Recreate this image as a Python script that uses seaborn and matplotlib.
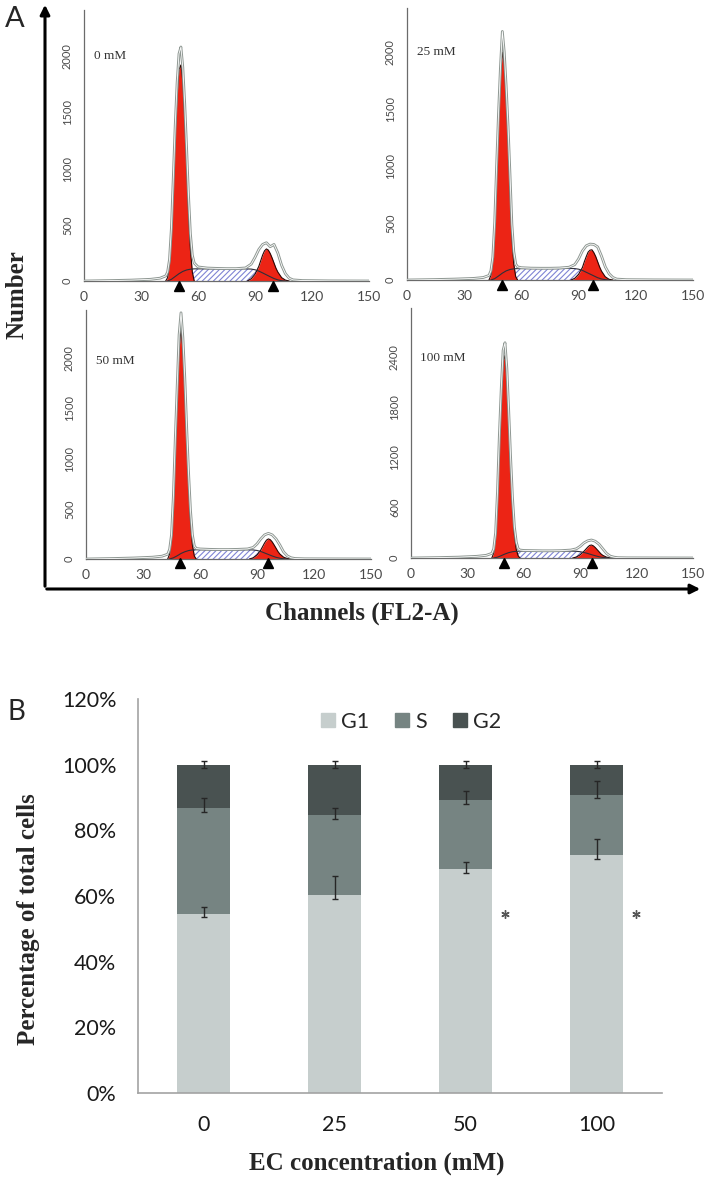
import numpy as np
import pandas as pd
import matplotlib
matplotlib.use("Agg")
import matplotlib.pyplot as plt
import seaborn as sns
from matplotlib.patches import FancyArrowPatch, Patch
from matplotlib.ticker import MultipleLocator, FixedLocator, FuncFormatter, NullFormatter

# ---------------- Panel A data (flow cytometry histograms) ----------------
PANEL_LABELS = ["0 mM", "25 mM", "50 mM", "100 mM"]

CH = [0, 15, 25, 35, 40, 43, 44, 45, 46, 47, 48, 49, 50, 51, 52, 53, 54, 55, 56, 57, 58,
      60, 65, 70, 75, 80, 85, 88, 90, 92, 94, 96, 98, 100, 102, 104, 106, 108, 110, 115, 130, 150]
TOT_0 = [0, 4, 8, 15, 25, 45, 80, 190, 470, 920, 1380, 1760, 2020, 2080, 1900, 1580, 1180, 760, 420, 230, 160,
         125, 115, 112, 110, 110, 116, 150, 210, 280, 325, 340, 305, 325, 250, 140, 65, 25, 10, 4, 1, 0]
TOT_25 = [0, 4, 8, 14, 22, 40, 80, 200, 510, 1000, 1460, 1860, 2180, 2000, 1700, 1350, 930, 490, 250, 140, 115,
          108, 104, 103, 103, 105, 112, 135, 185, 255, 300, 315, 312, 290, 210, 115, 55, 22, 8, 3, 1, 0]
TOT_50 = [0, 5, 10, 18, 28, 48, 95, 240, 630, 1200, 1720, 2230, 2450, 2200, 1800, 1300, 850, 480, 240, 130, 105,
          100, 96, 94, 94, 96, 100, 115, 150, 200, 240, 255, 240, 200, 140, 70, 30, 12, 5, 2, 1, 0]
TOT_100 = [0, 5, 10, 20, 32, 55, 110, 300, 790, 1460, 2020, 2480, 2570, 2260, 1740, 1190, 710, 370, 190, 110, 95,
           90, 88, 86, 86, 88, 95, 110, 140, 180, 205, 215, 200, 165, 110, 55, 22, 10, 4, 2, 1, 0]

CH_G1 = [43, 44, 45, 46, 47, 48, 49, 50, 51, 52, 53, 54, 55, 56, 57, 58]
G1_0 = [0, 30, 150, 420, 850, 1300, 1650, 1880, 1920, 1780, 1450, 1050, 620, 280, 80, 0]
G1_25 = [0, 40, 180, 480, 950, 1400, 1780, 2000, 1900, 1600, 1250, 820, 380, 140, 30, 0]
G1_50 = [0, 50, 220, 600, 1150, 1650, 2100, 2280, 2100, 1700, 1200, 750, 380, 140, 30, 0]
G1_100 = [0, 60, 280, 750, 1400, 1950, 2350, 2420, 2150, 1650, 1100, 620, 280, 100, 25, 0]

CH_G2 = [86, 88, 90, 92, 93, 94, 95, 96, 97, 98, 99, 100, 101, 102, 104, 106, 108]
G2_0 = [0, 20, 60, 130, 180, 230, 268, 285, 275, 245, 205, 160, 115, 80, 30, 8, 0]
G2_25 = [0, 15, 50, 110, 160, 205, 245, 262, 265, 240, 205, 160, 115, 78, 28, 6, 0]
G2_50 = [0, 12, 40, 90, 125, 160, 188, 200, 192, 170, 140, 108, 75, 50, 18, 4, 0]
G2_100 = [0, 12, 38, 80, 105, 130, 150, 155, 145, 125, 100, 75, 50, 32, 10, 2, 0]

CH_S = [44, 46, 48, 50, 52, 54, 56, 58, 60, 70, 80, 85, 88, 90, 92, 94, 96, 98, 100, 102, 104, 106]
S_0 = [0, 15, 40, 65, 85, 98, 105, 108, 108, 108, 108, 108, 106, 100, 88, 72, 55, 38, 22, 10, 3, 0]
S_25 = [0, 12, 35, 60, 80, 92, 98, 100, 100, 100, 100, 102, 100, 95, 84, 68, 52, 36, 20, 9, 3, 0]
S_50 = [0, 12, 32, 55, 72, 84, 90, 92, 92, 90, 90, 92, 90, 85, 75, 60, 45, 30, 17, 8, 2, 0]
S_100 = [0, 10, 28, 48, 64, 75, 80, 82, 82, 80, 80, 82, 80, 75, 66, 54, 40, 27, 15, 7, 2, 0]

TRI_G1 = [50.0, 49.8, 49.5, 49.5]
TRI_G2 = [99.5, 97.5, 95.8, 96.3]
YTOP = [2409, 2386, 2478, 2985]
YMAJ = [500, 500, 500, 600]
YMIN = [100, 100, 100, 120]
LABEL_Y = [2000, 2000, 1970, 2390]
X_TICKS = [0, 30, 60, 90, 120, 150]

# ---------------- Panel B data (stacked bars) ----------------
CONC = ["0", "25", "50", "100"]
G1_PCT = [54.4, 60.2, 68.1, 72.5]
S_PCT = [32.5, 24.6, 21.1, 18.3]
G2_PCT = [13.1, 15.2, 10.8, 9.2]
G1_ERR_LO = [0.9, 1.1, 1.2, 1.3]
G1_ERR_HI = [2.4, 6.0, 2.3, 4.9]
S_ERR_LO = [1.2, 1.5, 1.3, 0.9]
S_ERR_HI = [2.8, 2.0, 2.8, 4.3]
G2_ERR_LO = [1.0, 1.0, 1.0, 1.0]
G2_ERR_HI = [1.0, 1.0, 1.0, 1.0]
STAR_CAT = [2, 3]
STAR_Y = [54.5, 54.5]
B_YTICKS = [0, 20, 40, 60, 80, 100, 120]

# ---------------- style ----------------
sns.set_style("white")
SANS = ["Lato", "DejaVu Sans"]
SERIF = ["Liberation Serif", "DejaVu Serif"]
plt.rcParams["font.family"] = SANS
plt.rcParams["hatch.linewidth"] = 0.8

C_RED = "#ec2415"
C_HATCH = "#7f84d4"
C_AX = "#6b6b6b"
C_G1, C_S, C_G2 = "#c6cecd", "#768482", "#495251"

W, H = 710, 1177
fig = plt.figure(figsize=(W / 100, H / 100), dpi=100)


def rect(l, r, t, b):
    return [l / W, 1 - b / H, (r - l) / W, (b - t) / H]


A_RECTS = [rect(84, 369, 10, 281), rect(407, 693, 8, 280),
           rect(86, 371, 310, 559), rect(411, 693, 308, 558)]
TOTS = [TOT_0, TOT_25, TOT_50, TOT_100]
G1S = [G1_0, G1_25, G1_50, G1_100]
G2S = [G2_0, G2_25, G2_50, G2_100]
SS = [S_0, S_25, S_50, S_100]

for i in range(4):
    ax = fig.add_axes(A_RECTS[i])
    # S phase (hatched)
    ax.fill_between(CH_S, 0, SS[i], facecolor="white", edgecolor=C_HATCH,
                    hatch="//////", linewidth=0, zorder=1)
    # G1 / G2 components
    ax.fill_between(CH_G1, 0, G1S[i], color=C_RED, linewidth=0, zorder=2)
    ax.fill_between(CH_G2, 0, G2S[i], color=C_RED, linewidth=0, zorder=2)
    ax.plot(CH_G1, G1S[i], color="#2a0806", lw=0.8, zorder=3)
    ax.plot(CH_G2, G2S[i], color="#2a0806", lw=0.8, zorder=3)
    ax.plot(CH_S, SS[i], color="#2f2f3a", lw=0.8, zorder=3)
    # measured histogram outline (double grey line)
    sns.lineplot(x=CH, y=TOTS[i], color="#8e9792", lw=2.0, ax=ax, zorder=4)
    sns.lineplot(x=CH, y=TOTS[i], color="white", lw=0.6, ax=ax, zorder=5)
    # peak markers
    ax.plot([TRI_G1[i], TRI_G2[i]], [-0.018 * YTOP[i]] * 2, ls="none", marker="^",
            color="black", ms=6.5, clip_on=False, zorder=6)

    ax.set_xlim(0, 150)
    ax.set_ylim(0, YTOP[i])
    ax.set_xlabel("")
    ax.set_ylabel("")
    ax.xaxis.set_major_locator(FixedLocator(X_TICKS))
    ax.xaxis.set_minor_locator(MultipleLocator(6))
    ax.yaxis.set_major_locator(MultipleLocator(YMAJ[i]))
    ax.yaxis.set_minor_locator(MultipleLocator(YMIN[i]))
    for s in ["top", "right"]:
        ax.spines[s].set_visible(False)
    for s in ["left", "bottom"]:
        ax.spines[s].set_color(C_AX)
        ax.spines[s].set_linewidth(0.9)
    ax.tick_params(which="major", direction="out", length=4, width=0.8, color=C_AX,
                   labelcolor="#4a4a4a")
    ax.tick_params(which="minor", direction="out", length=2.5, width=0.7, color=C_AX)
    ax.tick_params(axis="x", labelsize=10, pad=3)
    ax.tick_params(axis="y", labelsize=8, pad=4, labelrotation=90)
    for lab in ax.get_yticklabels():
        lab.set_va("center")
    ax.patch.set_alpha(0)
    ax.text(5, LABEL_Y[i], PANEL_LABELS[i], family=SERIF, fontsize=9.5,
            color="#333333", ha="left", va="center")

# big axis arrows of panel A
fig.add_artist(FancyArrowPatch((45 / W, 1 - 589 / H), (45 / W, 1 - 2 / H),
                               transform=fig.transFigure, arrowstyle="-|>",
                               mutation_scale=14, lw=2.2, color="black"))
fig.add_artist(FancyArrowPatch((44 / W, 1 - 589 / H), (703 / W, 1 - 589 / H),
                               transform=fig.transFigure, arrowstyle="-|>",
                               mutation_scale=14, lw=2.2, color="black"))
fig.text(15 / W, 1 - 19 / H, "A", fontsize=21, ha="center", va="center", family=SANS)
fig.text(17 / W, 1 - 295 / H, "Number", rotation=90, fontsize=18, fontweight="bold",
         family=SERIF, ha="center", va="center")
fig.text(362 / W, 1 - 613 / H, "Channels (FL2-A)", fontsize=18, fontweight="bold",
         family=SERIF, ha="center", va="center")

# ---------------- Panel B ----------------
axb = fig.add_axes(rect(138, 662, 699, 1093))
g1 = np.array(G1_PCT)
top_s = g1 + np.array(S_PCT)
top_all = top_s + np.array(G2_PCT)
sns.barplot(x=CONC, y=top_all, order=CONC, color=C_G2, width=0.4, saturation=1,
            errorbar=None, linewidth=0, ax=axb)
sns.barplot(x=CONC, y=top_s, order=CONC, color=C_S, width=0.4, saturation=1,
            errorbar=None, linewidth=0, ax=axb)
sns.barplot(x=CONC, y=g1, order=CONC, color=C_G1, width=0.4, saturation=1,
            errorbar=None, linewidth=0, ax=axb)
xpos = np.arange(len(CONC))
for yv, lo, hi in [(g1, G1_ERR_LO, G1_ERR_HI), (top_s, S_ERR_LO, S_ERR_HI),
                   (top_all, G2_ERR_LO, G2_ERR_HI)]:
    axb.errorbar(xpos, yv, yerr=[lo, hi], fmt="none", ecolor="#262626",
                 elinewidth=1.0, capsize=2.5, capthick=1.0, zorder=5)
axb.plot(np.array(STAR_CAT) + 0.3, STAR_Y, ls="none", marker=(6, 2, 0), ms=6,
         mew=1.0, color="#555555", zorder=5)

axb.set_xlim(-0.5, 3.5)
axb.set_ylim(0, 120)
axb.set_xlabel("")
axb.set_ylabel("")
axb.yaxis.set_major_locator(FixedLocator(B_YTICKS))
axb.yaxis.set_major_formatter(FuncFormatter(lambda v, p: f"{v:.0f}%"))
axb.xaxis.set_major_locator(FixedLocator([-0.5, 0.5, 1.5, 2.5, 3.5]))
axb.xaxis.set_major_formatter(NullFormatter())
axb.xaxis.set_minor_locator(FixedLocator(list(xpos)))
axb.set_xticklabels(CONC, minor=True)
for s in ["top", "right"]:
    axb.spines[s].set_visible(False)
for s in ["left", "bottom"]:
    axb.spines[s].set_color("#a3a3a3")
    axb.spines[s].set_linewidth(1.2)
axb.tick_params(axis="y", which="major", direction="out", length=4.5, width=1.0,
                color="#a3a3a3", labelsize=15.5, pad=11, labelcolor="#1a1a1a")
axb.tick_params(axis="x", which="major", direction="out", length=6, width=1.0,
                color="#a3a3a3")
axb.tick_params(axis="x", which="minor", length=0, labelsize=15.5, pad=16,
                labelcolor="#1a1a1a")

handles = [Patch(color=C_G1, label="G1"), Patch(color=C_S, label="S"),
           Patch(color=C_G2, label="G2")]
axb.legend(handles=handles, loc="center", bbox_to_anchor=(0.521, 0.942), ncol=3,
           frameon=False, fontsize=15.5, handlelength=0.65, handleheight=0.65,
           handletextpad=0.3, columnspacing=1.2)

fig.text(16 / W, 1 - 712 / H, "B", fontsize=20, ha="center", va="center", family=SANS)
fig.text(28 / W, 1 - 919 / H, "Percentage of total cells", rotation=90, fontsize=18,
         fontweight="bold", family=SERIF, ha="center", va="center")
fig.text(377 / W, 1 - 1163 / H, "EC concentration (mM)", fontsize=18,
         fontweight="bold", family=SERIF, ha="center", va="center")

fig.savefig("out.png", dpi=100, facecolor="white")
